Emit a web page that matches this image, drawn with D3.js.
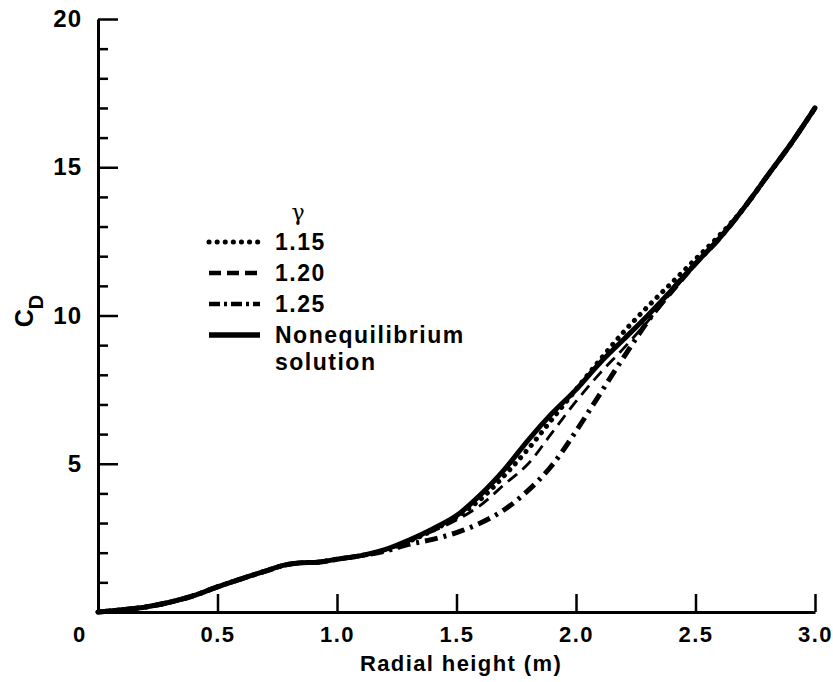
<!DOCTYPE html>
<html>
<head>
<meta charset="utf-8">
<script src="https://cdn.jsdelivr.net/npm/d3@7"></script>
<style>
  html, body { margin: 0; padding: 0; background: #fff; }
  svg { display: block; }
  text { font-family: "Liberation Sans", Arial, Helvetica, sans-serif; font-weight: bold; fill: #000; }
</style>
</head>
<body>
<svg id="chart" width="833" height="682"></svg>
<script>
// ---- data ----
const radialHeight = [0,0.07,0.13,0.2,0.3,0.4,0.5,0.6,0.7,0.78,0.85,0.92,1.0,1.1,1.2,1.3,1.4,1.5,1.6,1.7,1.8,1.9,2.0,2.1,2.2,2.3,2.4,2.5,2.6,2.7,2.8,2.9,3.0];
const cdNoneq  = [0,0.05,0.1,0.17,0.33,0.55,0.85,1.12,1.38,1.58,1.66,1.68,1.78,1.9,2.1,2.42,2.8,3.25,3.95,4.8,5.8,6.7,7.5,8.4,9.2,10.0,10.85,11.75,12.6,13.6,14.7,15.8,17.0];
const cdG115   = [0,0.05,0.1,0.17,0.33,0.55,0.85,1.12,1.38,1.58,1.66,1.68,1.78,1.9,2.08,2.38,2.75,3.2,3.8,4.6,5.5,6.5,7.5,8.5,9.45,10.3,11.1,11.9,12.7,13.6,14.7,15.8,17.0];
const cdG120   = [0,0.05,0.1,0.17,0.33,0.55,0.85,1.12,1.38,1.58,1.66,1.68,1.78,1.9,2.08,2.38,2.72,3.1,3.6,4.3,5.0,6.05,7.1,8.05,8.9,9.8,10.75,11.7,12.6,13.6,14.7,15.8,17.0];
const cdG125   = [0,0.05,0.1,0.17,0.33,0.55,0.85,1.12,1.38,1.58,1.66,1.68,1.78,1.9,2.05,2.28,2.45,2.68,3.0,3.45,4.1,4.95,6.1,7.35,8.6,9.8,10.85,11.75,12.6,13.6,14.7,15.8,17.0];
const xTicks = [0.5,1.0,1.5,2.0,2.5,3.0];
const yMajorTicks = [5,10,15,20];
const yMinorTicks = [1,2,3,4,6,7,8,9,11,12,13,14,16,17,18,19];
const legendLabels = ["1.15","1.20","1.25","Nonequilibrium","solution"];

const svg = d3.select("#chart");
const x = d3.scaleLinear().domain([0,3]).range([98,815]);
const y = d3.scaleLinear().domain([0,20]).range([612,19]);

// axes
const xAxis = d3.axisBottom(x).tickValues(xTicks).tickFormat(d3.format(".1f"))
  .tickSizeInner(-18).tickSizeOuter(0).tickPadding(14);
const gx = svg.append("g").attr("transform", `translate(0,${y(0)})`).call(xAxis);
gx.selectAll("text").style("font-size","22px").style("letter-spacing","1.5px");

const yAxisMinor = d3.axisLeft(y).tickValues(yMinorTicks).tickFormat("").tickSizeInner(-10).tickSizeOuter(0);
const gym = svg.append("g").attr("transform", `translate(${x(0)},0)`).call(yAxisMinor);
gym.select(".domain").remove();

const yAxis = d3.axisLeft(y).tickValues(yMajorTicks).tickSizeInner(-20).tickSizeOuter(0).tickPadding(16);
const gy = svg.append("g").attr("transform", `translate(${x(0)},0)`).call(yAxis);
gy.selectAll("text").style("font-size","24px").style("letter-spacing","1px");

svg.selectAll(".domain").attr("stroke","#000").attr("stroke-width",3);
svg.selectAll(".tick line").attr("stroke","#000").attr("stroke-width",2.5);

// shared zero label at corner
svg.append("text").attr("x",79).attr("y",642).attr("text-anchor","middle").style("font-size","22px").text("0");

// axis titles
svg.append("text").attr("x",461).attr("y",671).attr("text-anchor","middle")
  .style("font-size","22px").style("letter-spacing","1.4px").text("Radial height (m)");
const yl = svg.append("text").attr("transform","translate(33,311) rotate(-90)").attr("text-anchor","middle").style("font-size","25px");
yl.append("tspan").text("C");
yl.append("tspan").attr("dy","10").style("font-size","20px").text("D");

// lines
const series = [
  {vals: cdNoneq, dash: null, w: 5, cap: "round"},
  {vals: cdG115, dash: "0.1 8", w: 5, cap: "round"},
  {vals: cdG120, dash: "12 7", w: 2.8, cap: "butt"},
  {vals: cdG125, dash: "13 6 3 6", w: 5, cap: "butt"}
];
const line = d3.line().x((d,i)=>x(radialHeight[i])).y(d=>y(d)).curve(d3.curveCatmullRom);
series.forEach(s=>{
  svg.append("path").datum(s.vals).attr("d",line).attr("fill","none").attr("stroke","#000")
    .attr("stroke-width",s.w).attr("stroke-linecap",s.cap).attr("stroke-linejoin","round")
    .attr("stroke-dasharray",s.dash);
});

// legend
svg.append("text").attr("x",298).attr("y",220).attr("text-anchor","middle")
  .style("font-weight","normal").style("font-size","22px").style("font-family","'DejaVu Serif', serif").text("γ");
const legY = [242,273,304,335];
const legStyle = [
  {dash:"0.1 8", w:5, cap:"round"},
  {dash:"12 6", w:4.5, cap:"butt"},
  {dash:"11 4 3 4", w:4.5, cap:"butt"},
  {dash:null, w:5.5, cap:"butt"}
];
legStyle.forEach((s,i)=>{
  svg.append("line").attr("x1",209).attr("x2",260).attr("y1",legY[i]).attr("y2",legY[i])
    .attr("stroke","#000").attr("stroke-width",s.w).attr("stroke-linecap",s.cap).attr("stroke-dasharray",s.dash);
  svg.append("text").attr("x",275).attr("y",legY[i]+8).style("font-size","23px").style("letter-spacing","1.5px").text(legendLabels[i]);
});
svg.append("text").attr("x",275).attr("y",370).style("font-size","23px").style("letter-spacing","1.5px").text(legendLabels[4]);
</script>
</body>
</html>
